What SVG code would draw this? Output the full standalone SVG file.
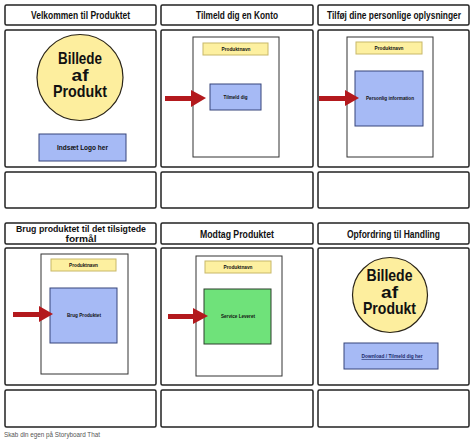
<svg xmlns="http://www.w3.org/2000/svg" width="474" height="442" viewBox="0 0 474 442">
<style>
  .frame { fill: #ffffff; stroke: #222222; stroke-width: 1.5; }
  .page { fill: #ffffff; stroke: #333333; stroke-width: 1; }
  .name { fill: #fdf0a0; stroke: #c8b868; stroke-width: 1; }
  .blue { fill: #a6baf5; stroke: #36447a; stroke-width: 1; }
  .green { fill: #6fe27a; stroke: #2c3f2c; stroke-width: 1; }
  .circ { fill: #fdee9e; stroke: #2a2418; stroke-width: 1.2; }
  .arrow { fill: #b3191d; stroke: none; }
  text { font-family: "Liberation Sans", Arial, sans-serif; font-weight: bold; fill: #111111; text-anchor: middle; }
  .title { font-size: 10.5px; }
  .title2 { font-size: 9.8px; }
  .big { font-size: 16.5px; }
  .small { font-size: 6px; }
  .mid { font-size: 7px; }
  .foot { font-size: 7.5px; font-weight: normal; text-anchor: start; fill: #555555; }
</style>
<rect width="474" height="442" fill="#ffffff"/>

<g id="panel1">
  <rect class="frame" x="5" y="5" width="151" height="20" rx="1.5"/>
  <text class="title" x="80.5" y="18.5" textLength="99" lengthAdjust="spacingAndGlyphs">Velkommen til Produktet</text>
  <rect class="frame" x="5" y="30" width="151" height="137" rx="1.5"/>
  <circle class="circ" cx="80" cy="77.5" r="43"/>
  <text class="big" x="80" y="64.3" textLength="44" lengthAdjust="spacingAndGlyphs">Billede</text>
  <text class="big" x="80" y="81" textLength="17" lengthAdjust="spacingAndGlyphs">af</text>
  <text class="big" x="80" y="96.7" textLength="54" lengthAdjust="spacingAndGlyphs">Produkt</text>
  <rect class="blue" x="39" y="134" width="87" height="27"/>
  <text class="mid" x="82.5" y="150" textLength="51" lengthAdjust="spacingAndGlyphs">Indsæt Logo her</text>
  <rect class="frame" x="5" y="172" width="151" height="36" rx="1.5"/>
</g>

<g id="panel2">
  <rect class="frame" x="161" y="5" width="152" height="20" rx="1.5"/>
  <text class="title" x="237" y="18.5" textLength="82" lengthAdjust="spacingAndGlyphs">Tilmeld dig en Konto</text>
  <rect class="frame" x="161" y="30" width="152" height="137" rx="1.5"/>
  <rect class="page" x="193" y="37" width="86" height="120"/>
  <rect class="name" x="203" y="43" width="65" height="12"/>
  <text class="small" x="236" y="51" textLength="29" lengthAdjust="spacingAndGlyphs">Produktnavn</text>
  <rect class="blue" x="210" y="84" width="51" height="26"/>
  <text class="small" x="235.5" y="98.5" textLength="24" lengthAdjust="spacingAndGlyphs">Tilmeld dig</text>
  <rect class="frame" x="161" y="172" width="152" height="36" rx="1.5"/>
</g>

<g id="panel3">
  <rect class="frame" x="318" y="5" width="151" height="20" rx="1.5"/>
  <text class="title" x="394" y="18.5" textLength="134" lengthAdjust="spacingAndGlyphs">Tilføj dine personlige oplysninger</text>
  <rect class="frame" x="318" y="30" width="151" height="137" rx="1.5"/>
  <rect class="page" x="347" y="37" width="86" height="120"/>
  <rect class="name" x="356" y="42" width="66" height="12"/>
  <text class="small" x="389" y="50" textLength="29" lengthAdjust="spacingAndGlyphs">Produktnavn</text>
  <rect class="blue" x="355" y="71" width="68" height="55"/>
  <text class="small" x="390" y="100" textLength="48" lengthAdjust="spacingAndGlyphs">Personlig information</text>
  <rect class="frame" x="318" y="172" width="151" height="36" rx="1.5"/>
</g>

<g id="panel4">
  <rect class="frame" x="5" y="223" width="151" height="21" rx="1.5"/>
  <text class="title2" x="81" y="232" textLength="130" lengthAdjust="spacingAndGlyphs">Brug produktet til det tilsigtede</text>
  <text class="title2" x="81" y="241.5" textLength="31" lengthAdjust="spacingAndGlyphs">formål</text>
  <rect class="frame" x="5" y="248" width="151" height="137" rx="1.5"/>
  <rect class="page" x="41" y="254" width="87" height="120"/>
  <rect class="name" x="51" y="259" width="65" height="12"/>
  <text class="small" x="83.5" y="267" textLength="29" lengthAdjust="spacingAndGlyphs">Produktnavn</text>
  <rect class="blue" x="50" y="288" width="67" height="55"/>
  <text class="small" x="84" y="316.7" textLength="34" lengthAdjust="spacingAndGlyphs">Brug Produktet</text>
  <rect class="frame" x="5" y="390" width="151" height="37" rx="1.5"/>
</g>

<g id="panel5">
  <rect class="frame" x="161" y="223" width="152" height="21" rx="1.5"/>
  <text class="title" x="237" y="237.7" textLength="74" lengthAdjust="spacingAndGlyphs">Modtag Produktet</text>
  <rect class="frame" x="161" y="248" width="152" height="137" rx="1.5"/>
  <rect class="page" x="196" y="256" width="86" height="120"/>
  <rect class="name" x="205" y="261" width="66" height="12"/>
  <text class="small" x="238" y="269" textLength="29" lengthAdjust="spacingAndGlyphs">Produktnavn</text>
  <rect class="green" x="204" y="289" width="67" height="55"/>
  <text class="small" x="238" y="318" textLength="34" lengthAdjust="spacingAndGlyphs">Service Leveret</text>
  <rect class="frame" x="161" y="390" width="152" height="37" rx="1.5"/>
</g>

<g id="panel6">
  <rect class="frame" x="318" y="223" width="151" height="21" rx="1.5"/>
  <text class="title" x="393.5" y="237.7" textLength="93" lengthAdjust="spacingAndGlyphs">Opfordring til Handling</text>
  <rect class="frame" x="318" y="248" width="151" height="137" rx="1.5"/>
  <circle class="circ" cx="390" cy="295" r="37.5"/>
  <text class="big" x="389.5" y="280.7" textLength="46" lengthAdjust="spacingAndGlyphs">Billede</text>
  <text class="big" x="389.5" y="297.7" textLength="17" lengthAdjust="spacingAndGlyphs">af</text>
  <text class="big" x="389.5" y="314.3" textLength="53" lengthAdjust="spacingAndGlyphs">Produkt</text>
  <rect class="blue" x="344" y="343" width="94" height="26"/>
  <text class="small" x="392" y="358.3" textLength="61" lengthAdjust="spacingAndGlyphs" text-decoration="underline" style="fill:#1c2a6a">Download / Tilmeld dig her</text>
  <rect class="frame" x="318" y="390" width="151" height="37" rx="1.5"/>
</g>

<g id="connectors">
  <polygon class="arrow" points="165,96 191,96 191,90 206,98 191,107 191,101 165,101"/>
  <polygon class="arrow" points="319,96 345,96 345,90 359,98 345,106 345,101 319,101"/>
  <polygon class="arrow" points="13,312 39,312 39,306 53,314 39,322 39,317 13,317"/>
  <polygon class="arrow" points="168,314 193,314 193,308 208,316 193,324 193,319 168,319"/>
</g>

<text class="foot" x="4" y="437" textLength="96" lengthAdjust="spacingAndGlyphs">Skab din egen på Storyboard That</text>
</svg>
